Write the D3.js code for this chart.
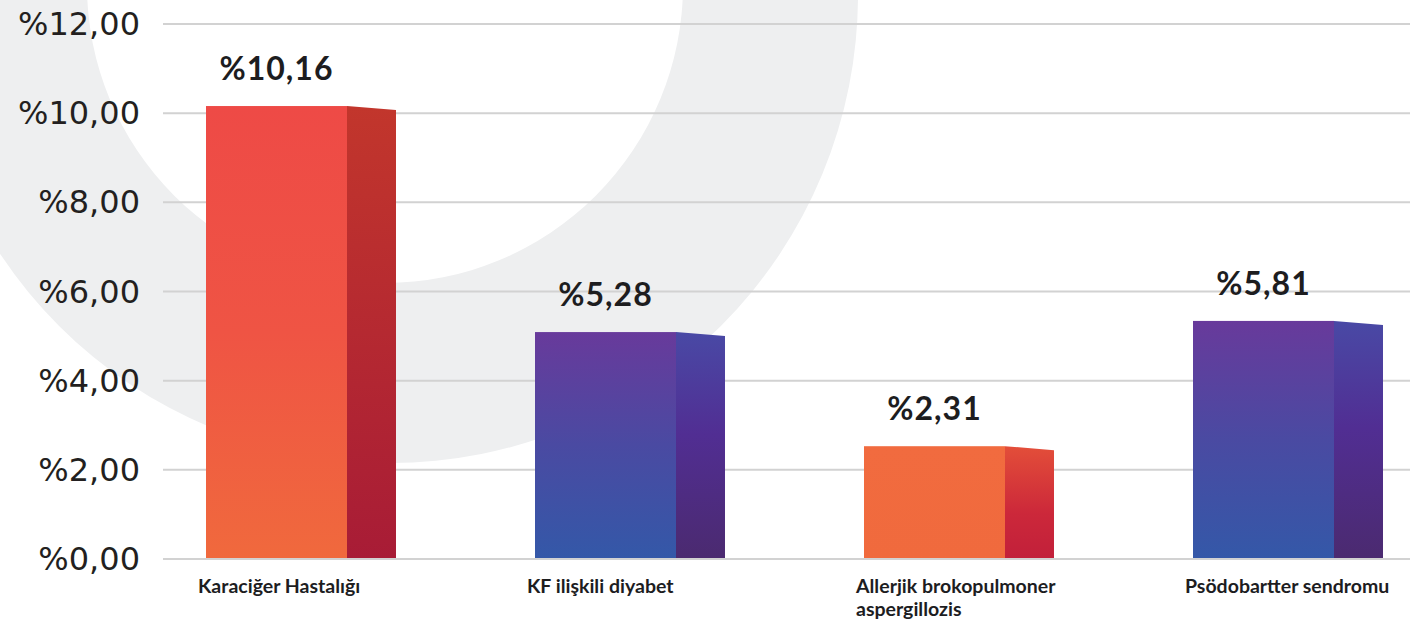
<!DOCTYPE html>
<html>
<head>
<meta charset="utf-8">
<script src="https://cdn.jsdelivr.net/npm/d3@7"></script>
<style>
  html, body { margin: 0; padding: 0; background: #ffffff; }
  svg { display: block; }
</style>
</head>
<body>
<svg id="chart" width="1410" height="625"></svg>
<script>
// ---- data ----
const categories = ["Karaciğer Hastalığı", "KF ilişkili diyabet", "Allerjik brokopulmoner\naspergillozis", "Psödobartter sendromu"];
const barHeights = [10.16, 5.09, 2.53, 5.34];           // heights as drawn in the picture
const valueLabels = ["%10,16", "%5,28", "%2,31", "%5,81"]; // printed labels
const palettes = ["red", "purple", "orange", "purple"];
const yTicks = [0, 2, 4, 6, 8, 10, 12];
const yTickLabels = ["%0,00", "%2,00", "%4,00", "%6,00", "%8,00", "%10,00", "%12,00"];

// ---- layout ----
const W = 1410, H = 625;
const svg = d3.select("#chart");
const defs = svg.append("defs");

const y = d3.scaleLinear().domain([0, 12]).range([559, 24]);
const x = d3.scaleBand().domain(categories).range([136.5, 1452.5])
  .paddingInner(0.4225).paddingOuter(0.21125);
const frontW = x.bandwidth() * 141 / 190;
const sideDrop = 4;

// gradients
function grad(id, stops) {
  const g = defs.append("linearGradient").attr("id", id)
    .attr("x1", 0).attr("y1", 0).attr("x2", 0).attr("y2", 1);
  stops.forEach(s => g.append("stop").attr("offset", s[0]).attr("stop-color", s[1]));
}
grad("red-front", [[0, "#ee4a46"], [0.5, "#ef5444"], [1, "#f0693d"]]);
grad("red-side", [[0, "#c2362c"], [1, "#a81c36"]]);
grad("purple-front", [[0, "#683a9b"], [0.5, "#4a4aa2"], [1, "#3458a8"]]);
grad("purple-side", [[0, "#4949a5"], [0.45, "#512e93"], [1, "#4b2a70"]]);
grad("orange-front", [[0, "#f16b3f"], [1, "#f06a3d"]]);
grad("orange-side", [[0, "#e34e39"], [0.6, "#cc283a"], [1, "#c2203a"]]);

// watermark ring
const ring = d3.path();
ring.arc(390, -5, 468, 0, 2 * Math.PI);
ring.moveTo(385 + 298, -15);
ring.arc(385, -15, 298, 0, 2 * Math.PI);
svg.append("path").attr("d", ring.toString())
  .attr("fill", "#eeeff0").attr("fill-rule", "evenodd");

// gridlines
svg.append("g").selectAll("line").data(yTicks).join("line")
  .attr("x1", 163).attr("x2", W)
  .attr("y1", d => y(d)).attr("y2", d => y(d))
  .attr("stroke", "#d2d2d2").attr("stroke-width", 2);

// y-axis labels
svg.append("g").selectAll("text").data(yTicks).join("text")
  .attr("x", 140).attr("y", d => y(d))
  .attr("text-anchor", "end").attr("dominant-baseline", "central")
  .attr("font-family", "'DejaVu Sans', sans-serif").attr("font-size", 32)
  .attr("fill", "#231f20")
  .text((d, i) => yTickLabels[i]);

// bars
const bars = svg.append("g").selectAll("g").data(categories).join("g");
bars.append("path")
  .attr("d", (c, i) => {
    const x0 = x(c) + frontW, x1 = x(c) + x.bandwidth();
    const t = y(barHeights[i]), b = y(0) - 1;
    return `M${x0},${t}L${x1},${t + sideDrop}L${x1},${b}L${x0},${b}Z`;
  })
  .attr("fill", (c, i) => `url(#${palettes[i]}-side)`);
bars.append("rect")
  .attr("x", c => x(c)).attr("width", frontW)
  .attr("y", (c, i) => y(barHeights[i]))
  .attr("height", (c, i) => y(0) - 1 - y(barHeights[i]))
  .attr("fill", (c, i) => `url(#${palettes[i]}-front)`);

// value labels
svg.append("g").selectAll("text").data(categories).join("text")
  .attr("x", c => x(c) + frontW / 2)
  .attr("y", (c, i) => y(barHeights[i]) - 26)
  .attr("text-anchor", "middle")
  .attr("font-family", "Lato, sans-serif").attr("font-weight", 700)
  .attr("font-size", 32).attr("letter-spacing", 1)
  .attr("fill", "#1d1d1f")
  .text((c, i) => valueLabels[i]);

// category labels
const cat = svg.append("g").selectAll("text").data(categories).join("text")
  .attr("x", c => x(c) - 8).attr("y", 593)
  .attr("font-family", "Lato, sans-serif").attr("font-weight", 700)
  .attr("font-size", 19.5).attr("fill", "#1d1d1f");
cat.each(function(c) {
  const lines = c.split("\n");
  d3.select(this).selectAll("tspan").data(lines).join("tspan")
    .attr("x", x(c) - 8).attr("dy", (l, i) => i === 0 ? 0 : 23)
    .text(l => l);
});
</script>
</body>
</html>
